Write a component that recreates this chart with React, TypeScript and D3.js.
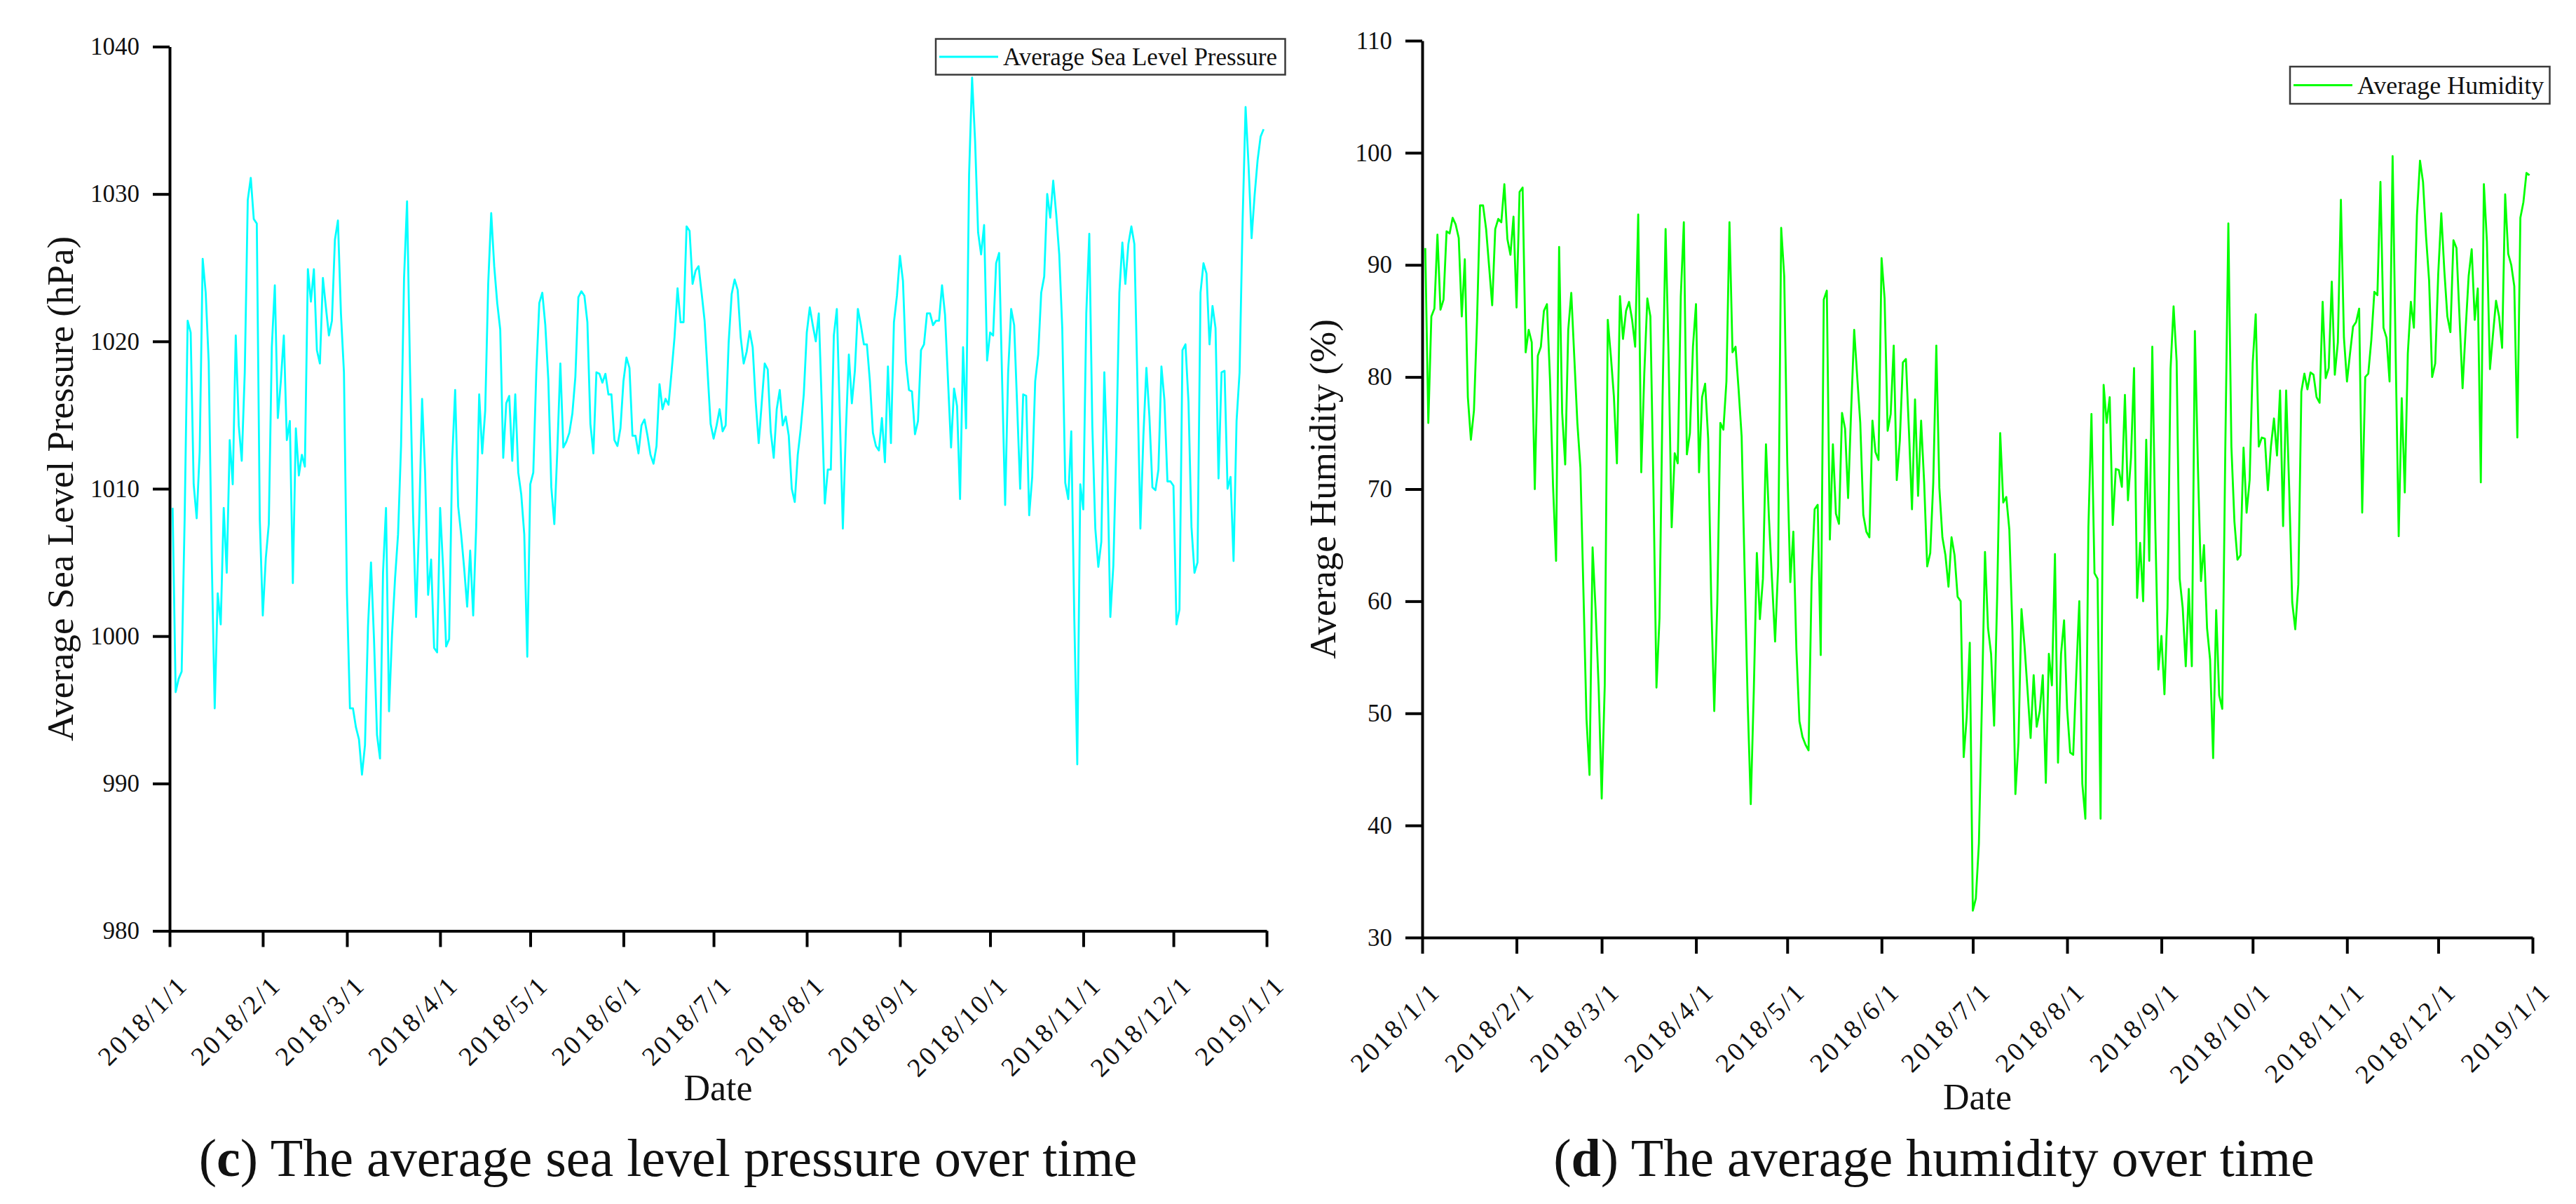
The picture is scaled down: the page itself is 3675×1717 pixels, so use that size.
import { useEffect, useRef } from 'react';
import * as d3 from 'd3';

// first daily reading is 2018/1/2, axis runs 2018/1/1 .. 2019/1/1
const FIRST_DAY = Date.UTC(2018, 0, 2);
const AXIS_START = Date.UTC(2018, 0, 1);
const AXIS_END = Date.UTC(2019, 0, 1);

const pressureTicks = [980, 990, 1000, 1010, 1020, 1030, 1040];
const humidityTicks = [30, 40, 50, 60, 70, 80, 90, 100, 110];

const pressureValues = [
    1008.7, 996.2, 997.1, 997.6, 1008, 1021.4, 1020.6, 1010.3, 1008.0, 1012.5,
    1025.6, 1023.3, 1018.6, 1005.3, 995.1, 1002.9, 1000.8, 1008.7, 1004.3, 1013.3,
    1010.3, 1020.4, 1014.3, 1011.9, 1017.9, 1029.6, 1031.1, 1028.3, 1028.0, 1007.9,
    1001.4, 1005.3, 1007.6, 1019.6, 1023.8, 1014.8, 1017.3, 1020.4, 1013.3, 1014.6,
    1003.6, 1014.1, 1010.9, 1012.3, 1011.5, 1024.9, 1022.7, 1024.9, 1019.4, 1018.5,
    1024.3, 1022.3, 1020.4, 1021.4, 1026.9, 1028.2, 1021.9, 1017.9, 1002.9, 995.1,
    995.1, 993.8, 993.0, 990.6, 992.6, 1000.6, 1005.0, 999.8, 993.3, 991.7,
    1004.3, 1008.7, 994.9, 1000.1, 1003.9, 1006.9, 1012.9, 1024.3, 1029.5, 1017.9,
    1008.3, 1001.3, 1007.6, 1016.1, 1011.1, 1002.8, 1005.2, 999.2, 998.9, 1008.7,
    1004.6, 999.3, 999.8, 1011.9, 1016.7, 1008.8, 1006.9, 1004.6, 1002.0, 1005.8,
    1001.4, 1007.4, 1016.4, 1012.4, 1015.3, 1023.9, 1028.7, 1025.1, 1022.6, 1020.8,
    1012.1, 1015.8, 1016.3, 1011.9, 1016.4, 1011.1, 1009.6, 1006.9, 998.6, 1010.3,
    1011.1, 1017.9, 1022.6, 1023.3, 1021.1, 1017.4, 1010.1, 1007.6, 1012.6, 1018.5,
    1012.8, 1013.2, 1013.8, 1015.1, 1017.6, 1023.0, 1023.4, 1023.1, 1021.3, 1014.4,
    1012.4, 1017.9, 1017.8, 1017.2, 1017.8, 1016.4, 1016.4, 1013.3, 1012.9, 1014.1,
    1017.3, 1018.9, 1018.2, 1013.6, 1013.6, 1012.4, 1014.3, 1014.7, 1013.6, 1012.3,
    1011.7, 1012.9, 1017.1, 1015.4, 1016.1, 1015.7, 1017.9, 1020.3, 1023.6, 1021.3,
    1021.3, 1027.8, 1027.5, 1023.9, 1024.8, 1025.1, 1023.3, 1021.4, 1017.9, 1014.4,
    1013.4, 1014.3, 1015.4, 1013.9, 1014.3, 1019.9, 1023.2, 1024.2, 1023.5, 1020.3,
    1018.5, 1019.3, 1020.7, 1019.6, 1015.9, 1013.1, 1015.8, 1018.5, 1018.1, 1013.9,
    1012.1, 1015.4, 1016.7, 1014.3, 1014.9, 1013.6, 1010.0, 1009.1, 1012.3, 1014.1,
    1016.4, 1020.6, 1022.3, 1021.1, 1020.0, 1021.9, 1015.6, 1009.0, 1011.3, 1011.3,
    1020.4, 1022.2, 1014.9, 1007.3, 1013.9, 1019.1, 1015.8, 1018.0, 1022.2, 1021.1,
    1019.8, 1019.8, 1017.3, 1013.8, 1012.9, 1012.6, 1014.8, 1011.8, 1018.3, 1013.1,
    1021.3, 1023.1, 1025.8, 1024.1, 1018.6, 1016.7, 1016.6, 1013.7, 1014.6, 1019.4,
    1019.8, 1021.9, 1021.9, 1021.1, 1021.4, 1021.4, 1023.8, 1021.8, 1017.3, 1012.8,
    1016.8, 1015.6, 1009.3, 1019.6, 1014.1, 1031.3, 1037.9, 1033.6, 1027.4, 1025.9,
    1027.9, 1018.7, 1020.6, 1020.4, 1025.3, 1026.0, 1017.3, 1008.9, 1017.9, 1022.2,
    1021.1, 1015.6, 1010.0, 1016.4, 1016.3, 1008.2, 1010.8, 1017.3, 1019.1, 1023.3,
    1024.4, 1030.0, 1028.4, 1030.9, 1028.6, 1025.9, 1020.9, 1010.4, 1009.3, 1013.9,
    1001.3, 991.3, 1010.3, 1008.6, 1021.9, 1027.3, 1014.3, 1007.3, 1004.7, 1006.4,
    1017.9, 1011.6, 1001.3, 1004.8, 1012.9, 1023.3, 1026.7, 1023.9, 1026.6, 1027.8,
    1026.6, 1017.3, 1007.3, 1013.6, 1018.2, 1014.9, 1010.1, 1009.9, 1011.3, 1018.3,
    1016.0, 1010.5, 1010.5, 1010.2, 1000.8, 1001.8, 1019.4, 1019.8, 1015.9, 1007.4,
    1004.3, 1005.0, 1023.3, 1025.3, 1024.6, 1019.8, 1022.4, 1020.9, 1010.7, 1017.9,
    1018.0, 1010.0, 1010.8, 1005.1, 1014.6, 1017.9, 1028.1, 1035.9, 1031.9, 1027.0,
    1029.9, 1032.3, 1033.9, 1034.4,
];

const humidityValues = [
    91.5, 75.9, 85.4, 86.1, 92.7, 86.0, 86.9, 93.0, 92.8, 94.2,
    93.6, 92.4, 85.4, 90.5, 78.2, 74.4, 77.0, 84.9, 95.3, 95.3,
    93.2, 89.8, 86.4, 93.2, 94.1, 93.8, 97.2, 92.3, 90.9, 94.3,
    86.2, 96.5, 96.9, 82.2, 84.2, 83.1, 70.0, 81.9, 82.7, 85.9,
    86.5, 79.8, 70.3, 63.6, 91.6, 76.8, 72.2, 84.2, 87.5, 81.7,
    75.9, 71.9, 60.8, 49.5, 44.5, 64.8, 59.2, 52.3, 42.4, 52.5,
    85.1, 81.9, 78.3, 72.3, 87.2, 83.4, 85.9, 86.7, 85.1, 82.7,
    94.5, 71.5, 80.3, 87.0, 85.4, 70.3, 52.3, 58.5, 78.0, 93.2,
    81.7, 66.6, 73.2, 72.3, 87.2, 93.8, 73.1, 75.0, 82.7, 86.5,
    71.5, 78.2, 79.4, 74.5, 60.1, 50.2, 59.9, 75.9, 75.3, 79.6,
    93.8, 82.2, 82.7, 78.9, 74.7, 62.5, 50.9, 41.9, 52.0, 64.3,
    58.4, 62.0, 74.0, 67.3, 61.8, 56.4, 63.1, 93.3, 89.0, 72.4,
    61.7, 66.2, 55.7, 49.3, 47.9, 47.2, 46.7, 61.8, 68.2, 68.6,
    55.2, 86.9, 87.7, 65.5, 74.0, 67.8, 66.9, 76.8, 75.4, 69.2,
    77.0, 84.2, 80.0, 75.9, 67.7, 66.2, 65.7, 76.1, 73.3, 72.6,
    90.6, 87.0, 75.2, 76.7, 82.8, 70.8, 74.3, 81.3, 81.6, 75.2,
    68.2, 78.0, 69.4, 76.1, 70.6, 63.1, 64.3, 70.6, 82.8, 70.1,
    65.7, 64.1, 61.3, 65.7, 64.1, 60.4, 60.0, 46.1, 49.7, 56.3,
    32.4, 33.5, 38.4, 51.1, 64.4, 57.6, 55.3, 48.9, 60.4, 75.0,
    68.8, 69.3, 66.4, 57.6, 42.8, 47.4, 59.3, 56.0, 52.0, 47.8,
    53.4, 48.8, 50.2, 53.4, 43.8, 55.3, 52.5, 64.2, 45.6, 55.3,
    58.3, 50.4, 46.5, 46.3, 53.4, 60.0, 43.7, 40.6, 66.6, 76.7,
    62.5, 62.0, 40.6, 79.3, 75.9, 78.2, 66.8, 71.8, 71.7, 70.2,
    78.4, 69.0, 72.8, 80.8, 60.3, 65.2, 60.0, 74.4, 63.6, 82.7,
    66.4, 53.9, 56.9, 51.7, 59.4, 80.7, 86.3, 81.4, 62.0, 59.4,
    54.2, 61.1, 54.2, 84.1, 72.0, 61.8, 65.0, 57.6, 54.8, 46.0,
    59.2, 51.6, 50.4, 73.6, 93.7, 73.8, 67.1, 63.7, 64.1, 73.7,
    67.9, 70.8, 81.2, 85.6, 73.8, 74.6, 74.5, 69.9, 73.8, 76.3,
    73.0, 78.8, 66.7, 78.8, 70.1, 59.9, 57.5, 61.5, 78.7, 80.3,
    78.9, 80.4, 80.2, 78.2, 77.7, 86.7, 79.9, 80.8, 88.5, 80.2,
    83.1, 95.8, 83.5, 79.6, 82.1, 84.5, 84.9, 86.1, 67.9, 80.0,
    80.3, 83.3, 87.6, 87.3, 97.4, 84.4, 83.5, 79.6, 99.7, 82.1,
    65.8, 78.1, 69.7, 82.1, 86.7, 84.4, 94.4, 99.3, 97.4, 92.5,
    88.6, 80.0, 81.2, 89.2, 94.6, 89.5, 85.4, 84.0, 92.2, 91.5,
    85.3, 79.0, 84.2, 89.0, 91.4, 85.1, 87.9, 70.6, 97.2, 92.1,
    80.7, 83.8, 86.8, 85.4, 82.6, 96.3, 91.0, 90.0, 88.1, 74.6,
    94.2, 95.6, 98.2, 98.0,
];

const FONT = '"Liberation Serif", "Times New Roman", Times, serif';

interface PanelProps {
    values: number[];
    yDomain: [number, number];
    yTicks: number[];
    color: string;
    left: number;
    right: number;
    top: number;
    bottom: number;
    yTitle: string;
    yTitleX: number;
    xTitleY: number;
    legendLabel: string;
    legendX: number;
    legendY: number;
    legendWidth: number;
    legendHeight: number;
    legendFontSize: number;
}

function Panel({
    values,
    yDomain,
    yTicks,
    color,
    left,
    right,
    top,
    bottom,
    yTitle,
    yTitleX,
    xTitleY,
    legendLabel,
    legendX,
    legendY,
    legendWidth,
    legendHeight,
    legendFontSize,
}: PanelProps) {
    const ref = useRef<SVGGElement | null>(null);

    useEffect(() => {
        if (!ref.current) return;

        const g = d3.select(ref.current);
        g.selectAll('*').remove();

        const x = d3
            .scaleUtc()
            .domain([new Date(AXIS_START), new Date(AXIS_END)])
            .range([left, right]);
        const y = d3.scaleLinear().domain(yDomain).range([bottom, top]);

        const line = d3
            .line<number>()
            .x((_, i) => x(d3.utcDay.offset(new Date(FIRST_DAY), i)))
            .y((d) => y(d));

        g.append('path')
            .datum(values)
            .attr('d', line)
            .attr('fill', 'none')
            .attr('stroke', color)
            .attr('stroke-width', 2.8)
            .attr('stroke-linejoin', 'round');

        // y axis, ticks pointing outwards
        const yAxis = g
            .append('g')
            .attr('transform', `translate(${left},0)`)
            .call(
                d3
                    .axisLeft(y)
                    .tickValues(yTicks)
                    .tickSize(24)
                    .tickSizeOuter(0)
                    .tickPadding(19)
                    .tickFormat(d3.format('d'))
            );
        yAxis.attr('font-family', FONT).attr('font-size', 35);
        yAxis.selectAll('path, line').attr('stroke', '#000').attr('stroke-width', 4);
        yAxis.selectAll('text').attr('fill', '#111');

        // monthly date axis
        const fmt = d3.utcFormat('%Y/%-m/%-d');
        const xAxis = g
            .append('g')
            .attr('transform', `translate(0,${bottom})`)
            .call(
                d3
                    .axisBottom(x)
                    .ticks(d3.utcMonth.every(1))
                    .tickSize(23)
                    .tickSizeOuter(0)
                    .tickFormat((d) => fmt(d as Date))
            );
        xAxis.attr('font-family', FONT).attr('font-size', 38);
        xAxis.selectAll('path, line').attr('stroke', '#000').attr('stroke-width', 4);
        xAxis
            .selectAll('text')
            .attr('fill', '#111')
            .attr('x', 0)
            .attr('y', 0)
            .attr('dy', null)
            .attr('text-anchor', 'end')
            .attr('letter-spacing', 3.5)
            .attr('transform', 'translate(28,79) rotate(-45)');

        g.append('text')
            .attr('transform', `translate(${yTitleX},${(top + bottom) / 2}) rotate(-90)`)
            .attr('text-anchor', 'middle')
            .attr('font-family', FONT)
            .attr('font-size', 53)
            .attr('fill', '#111')
            .text(yTitle);

        g.append('text')
            .attr('x', (left + right) / 2)
            .attr('y', xTitleY)
            .attr('text-anchor', 'middle')
            .attr('font-family', FONT)
            .attr('font-size', 52)
            .attr('fill', '#111')
            .text('Date');

        // legend
        const legend = g.append('g').attr('transform', `translate(${legendX},${legendY})`);
        legend
            .append('rect')
            .attr('width', legendWidth)
            .attr('height', legendHeight)
            .attr('fill', '#fff')
            .attr('stroke', '#3a3a3a')
            .attr('stroke-width', 2.5);
        legend
            .append('line')
            .attr('x1', 5)
            .attr('x2', 89)
            .attr('y1', legendHeight / 2)
            .attr('y2', legendHeight / 2)
            .attr('stroke', color)
            .attr('stroke-width', 2.8);
        legend
            .append('text')
            .attr('x', 96)
            .attr('y', legendHeight / 2 + legendFontSize * 0.35)
            .attr('font-family', FONT)
            .attr('font-size', legendFontSize)
            .attr('fill', '#111')
            .text(legendLabel);
    }, [
        values,
        yDomain,
        yTicks,
        color,
        left,
        right,
        top,
        bottom,
        yTitle,
        yTitleX,
        xTitleY,
        legendLabel,
        legendX,
        legendY,
        legendWidth,
        legendHeight,
        legendFontSize,
    ]);

    return <g ref={ref} />;
}

export default function App() {
    return (
        <svg
            width={3675}
            height={1717}
            style={{ position: 'absolute', left: 0, top: 0, display: 'block', background: '#fff' }}
        >
            <Panel
                values={pressureValues}
                yDomain={[980, 1040]}
                yTicks={pressureTicks}
                color="#00FFFF"
                left={242}
                right={1807}
                top={66.5}
                bottom={1327.5}
                yTitle="Average Sea Level Pressure (hPa)"
                yTitleX={104}
                xTitleY={1569}
                legendLabel="Average Sea Level Pressure"
                legendX={1335}
                legendY={55.5}
                legendWidth={498.5}
                legendHeight={51}
                legendFontSize={35}
            />
            <Panel
                values={humidityValues}
                yDomain={[30, 110]}
                yTicks={humidityTicks}
                color="#00FF00"
                left={2029}
                right={3613}
                top={58}
                bottom={1337}
                yTitle="Average Humidity (%)"
                yTitleX={1905}
                xTitleY={1582}
                legendLabel="Average Humidity"
                legendX={3267}
                legendY={95}
                legendWidth={370.5}
                legendHeight={53}
                legendFontSize={36}
            />
            <text x={953} y={1677} textAnchor="middle" fontFamily={FONT} fontSize={76} fill="#111">
                (<tspan fontWeight="bold">c</tspan>) The average sea level pressure over time
            </text>
            <text x={2759} y={1677} textAnchor="middle" fontFamily={FONT} fontSize={76} fill="#111">
                (<tspan fontWeight="bold">d</tspan>) The average humidity over time
            </text>
        </svg>
    );
}
